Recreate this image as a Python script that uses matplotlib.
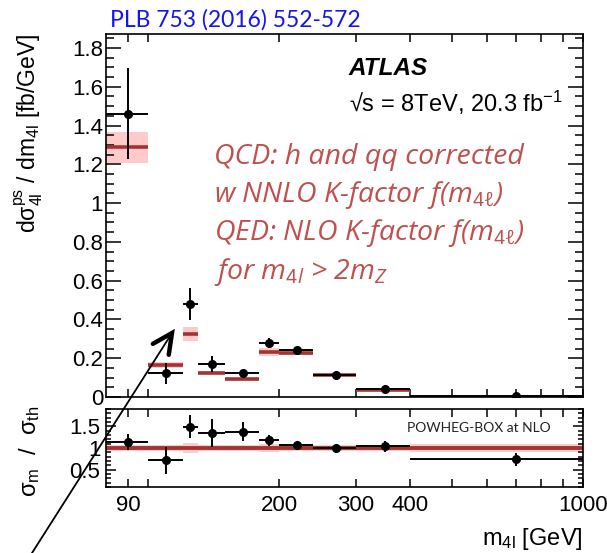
import numpy as np
import matplotlib
matplotlib.use('Agg')
import matplotlib.pyplot as plt
from matplotlib.lines import Line2D
from matplotlib.ticker import FixedLocator, MultipleLocator, FuncFormatter, NullFormatter

plt.rcParams['font.family'] = ['Liberation Sans', 'DejaVu Sans']
plt.rcParams['mathtext.fontset'] = 'custom'
plt.rcParams['mathtext.rm'] = 'Liberation Sans'
plt.rcParams['mathtext.it'] = 'Open Sans:italic'
plt.rcParams['mathtext.bf'] = 'Liberation Sans:bold'
plt.rcParams['mathtext.fallback'] = 'stixsans'

# m4l binning [GeV]
bin_edges = [80, 100, 120, 130, 150, 180, 200, 240, 300, 400, 1000]
bin_centres = [90, 110, 125, 140, 165, 190, 220, 270, 350, 700]

# measured dsigma/dm4l [fb/GeV]
xsec = [1.462, 0.122, 0.479, 0.170, 0.125, 0.280, 0.242, 0.113, 0.041, 0.003]
xsec_err = [0.235, 0.053, 0.084, 0.040, 0.010, 0.025, 0.012, 0.008, 0.006, 0.002]

# POWHEG-BOX at NLO prediction
pred = [1.287, 0.167, 0.325, 0.125, 0.091, 0.234, 0.225, 0.112, 0.036, 0.002]
pred_err = [0.080, 0.015, 0.036, 0.008, 0.006, 0.021, 0.010, 0.006, 0.003, 0.001]

# measured / predicted
ratio = [1.136, 0.714, 1.49, 1.35, 1.375, 1.18, 1.08, 1.00, 1.04, 0.74]
ratio_err = [0.18, 0.32, 0.27, 0.32, 0.22, 0.125, 0.05, 0.05, 0.125, 0.155]
ratio_band = [0.08, 0.08, 0.125, 0.08, 0.08, 0.10, 0.08, 0.08, 0.08, 0.09]

xtick_labelled = [90, 200, 300, 400, 1000]
xtick_plain = [100, 500, 600, 700, 800, 900]

DARK_RED = '#a33434'
PINK = '#ffcaca'
TEXT_RED = '#c0504d'

edges = np.array(bin_edges, dtype=float)
centres = np.array(bin_centres, dtype=float)
xerr = [centres - edges[:-1], edges[1:] - centres]

W, H = 607, 553
fig = plt.figure(figsize=(W / 100, H / 100), dpi=100)


def px_rect(x0, y0, x1, y1):
    return [x0 / W, 1 - y1 / H, (x1 - x0) / W, (y1 - y0) / H]


ax = fig.add_axes(px_rect(106, 34, 583, 397))
axr = fig.add_axes(px_rect(106, 409, 583, 487))

# ---- main panel ----
pe = np.array(pred_err)
ax.bar(edges[:-1], 2 * pe, bottom=np.array(pred) - pe, width=np.diff(edges),
       align='edge', color=PINK, lw=0, zorder=1)
ax.hlines(pred, edges[:-1], edges[1:], color=DARK_RED, lw=2.6, zorder=2)
ax.errorbar(centres, xsec, yerr=xsec_err, xerr=xerr, fmt='o', color='black',
            ms=5.5, lw=1.4, capsize=0, zorder=3)

ax.set_xscale('log')
ax.set_xlim(80, 1000)
ax.set_ylim(0, 1.872)
ax.yaxis.set_major_locator(MultipleLocator(0.2))
ax.yaxis.set_minor_locator(MultipleLocator(0.05))
ax.yaxis.set_major_formatter(FuncFormatter(lambda v, p: '%g' % round(v, 2)))
ax.set_ylabel('dσ$^{\\mathrm{ps}}_{\\mathrm{4l}}$ / dm$_{\\mathrm{4l}}$ [fb/GeV]',
              fontsize=16.5, loc='top')
ax.yaxis.set_label_coords(-0.128, 1.0)

# ---- ratio panel ----
band_lo = np.append(1 - np.array(ratio_band), 1 - ratio_band[-1])
band_hi = np.append(1 + np.array(ratio_band), 1 + ratio_band[-1])
axr.fill_between(edges, band_lo, band_hi, step='post', color=PINK, lw=0, zorder=1)
axr.axhline(1, color=DARK_RED, lw=2.8, zorder=2)
axr.errorbar(centres, ratio, yerr=ratio_err, xerr=xerr, fmt='o', color='black',
             ms=5.5, lw=1.4, capsize=0, zorder=3)

axr.set_xscale('log')
axr.set_xlim(80, 1000)
axr.set_ylim(0.1, 1.9)
axr.yaxis.set_major_locator(FixedLocator([0.5, 1, 1.5]))
axr.yaxis.set_minor_locator(MultipleLocator(0.1))
axr.yaxis.set_major_formatter(FuncFormatter(lambda v, p: '%g' % v))
axr.set_ylabel('σ$_{\\mathrm{m}}$  /  σ$_{\\mathrm{th}}$', fontsize=17, loc='top')
axr.yaxis.set_label_coords(-0.134, 1.04)
axr.set_xlabel('m$_{\\mathrm{4l}}$ [GeV]', fontsize=17, loc='right')
axr.xaxis.set_label_coords(1.0, -0.5)
axr.text(0.63, 0.70, 'POWHEG-BOX at NLO', transform=axr.transAxes,
         fontsize=10, family='Lato', color='#222222')

for a in (ax, axr):
    a.xaxis.set_major_locator(FixedLocator(xtick_labelled))
    a.xaxis.set_minor_locator(FixedLocator(xtick_plain))
    a.xaxis.set_minor_formatter(NullFormatter())
    a.tick_params(which='both', direction='in', top=True, right=True,
                  labelsize=16, width=1.1)
    a.tick_params(axis='x', which='both', length=6, pad=6)
    for s in a.spines.values():
        s.set_linewidth(1.2)

ax.tick_params(axis='y', which='major', length=11, pad=2)
ax.tick_params(axis='y', which='minor', length=5.5)
ax.xaxis.set_major_formatter(NullFormatter())
axr.tick_params(axis='y', which='major', length=7, pad=4)
axr.tick_params(axis='y', which='minor', length=3.5)
axr.xaxis.set_major_formatter(FuncFormatter(lambda v, p: '%d' % v))

# ---- labels ----
fig.text(110 / W, 1 - 27 / H, 'PLB 753 (2016) 552-572', family='Lato',
         fontsize=16.5, color='#1414f0')
fig.text(348 / W, 1 - 75 / H, 'ATLAS', fontsize=17.5, fontweight='bold',
         style='italic')
fig.text(349 / W, 1 - 112 / H, '√s = 8TeV, 20.3 fb$^{-1}$', fontsize=17)

red_lines = [
    'QCD: h and qq corrected',
    'w NNLO K-factor f(m$_{\\mathit{4\\ell}}$)',
    'QED: NLO K-factor f(m$_{\\mathit{4\\ell}}$)',
    'for m$_{\\mathit{4l}}$ > 2m$_{\\mathit{Z}}$',
]
red_baselines = [164, 202, 240, 279]
for line, yb in zip(red_lines, red_baselines):
    fig.text(214 / W, 1 - yb / H, line, family='Open Sans', style='italic',
             fontsize=20.5, color=TEXT_RED)

# hand-drawn style arrow pointing at the 125 GeV bin
tail = np.array([32.0, 553.0])
tip = np.array([172.0, 333.0])
fig.add_artist(Line2D([tail[0] / W, tip[0] / W], [1 - tail[1] / H, 1 - tip[1] / H],
                      transform=fig.transFigure, color='black', lw=1.3))
back = (tail - tip) / np.linalg.norm(tail - tip)
wings = []
for ang in (np.radians(28), np.radians(-24)):
    rot = np.array([[np.cos(ang), -np.sin(ang)], [np.sin(ang), np.cos(ang)]])
    wings.append(tip + 22 * rot @ back)
head = np.array([wings[0], tip, wings[1]])
fig.add_artist(Line2D(head[:, 0] / W, 1 - head[:, 1] / H, transform=fig.transFigure,
                      color='black', lw=3.2, solid_capstyle='round',
                      solid_joinstyle='miter'))

fig.savefig('out.png', dpi=100)
